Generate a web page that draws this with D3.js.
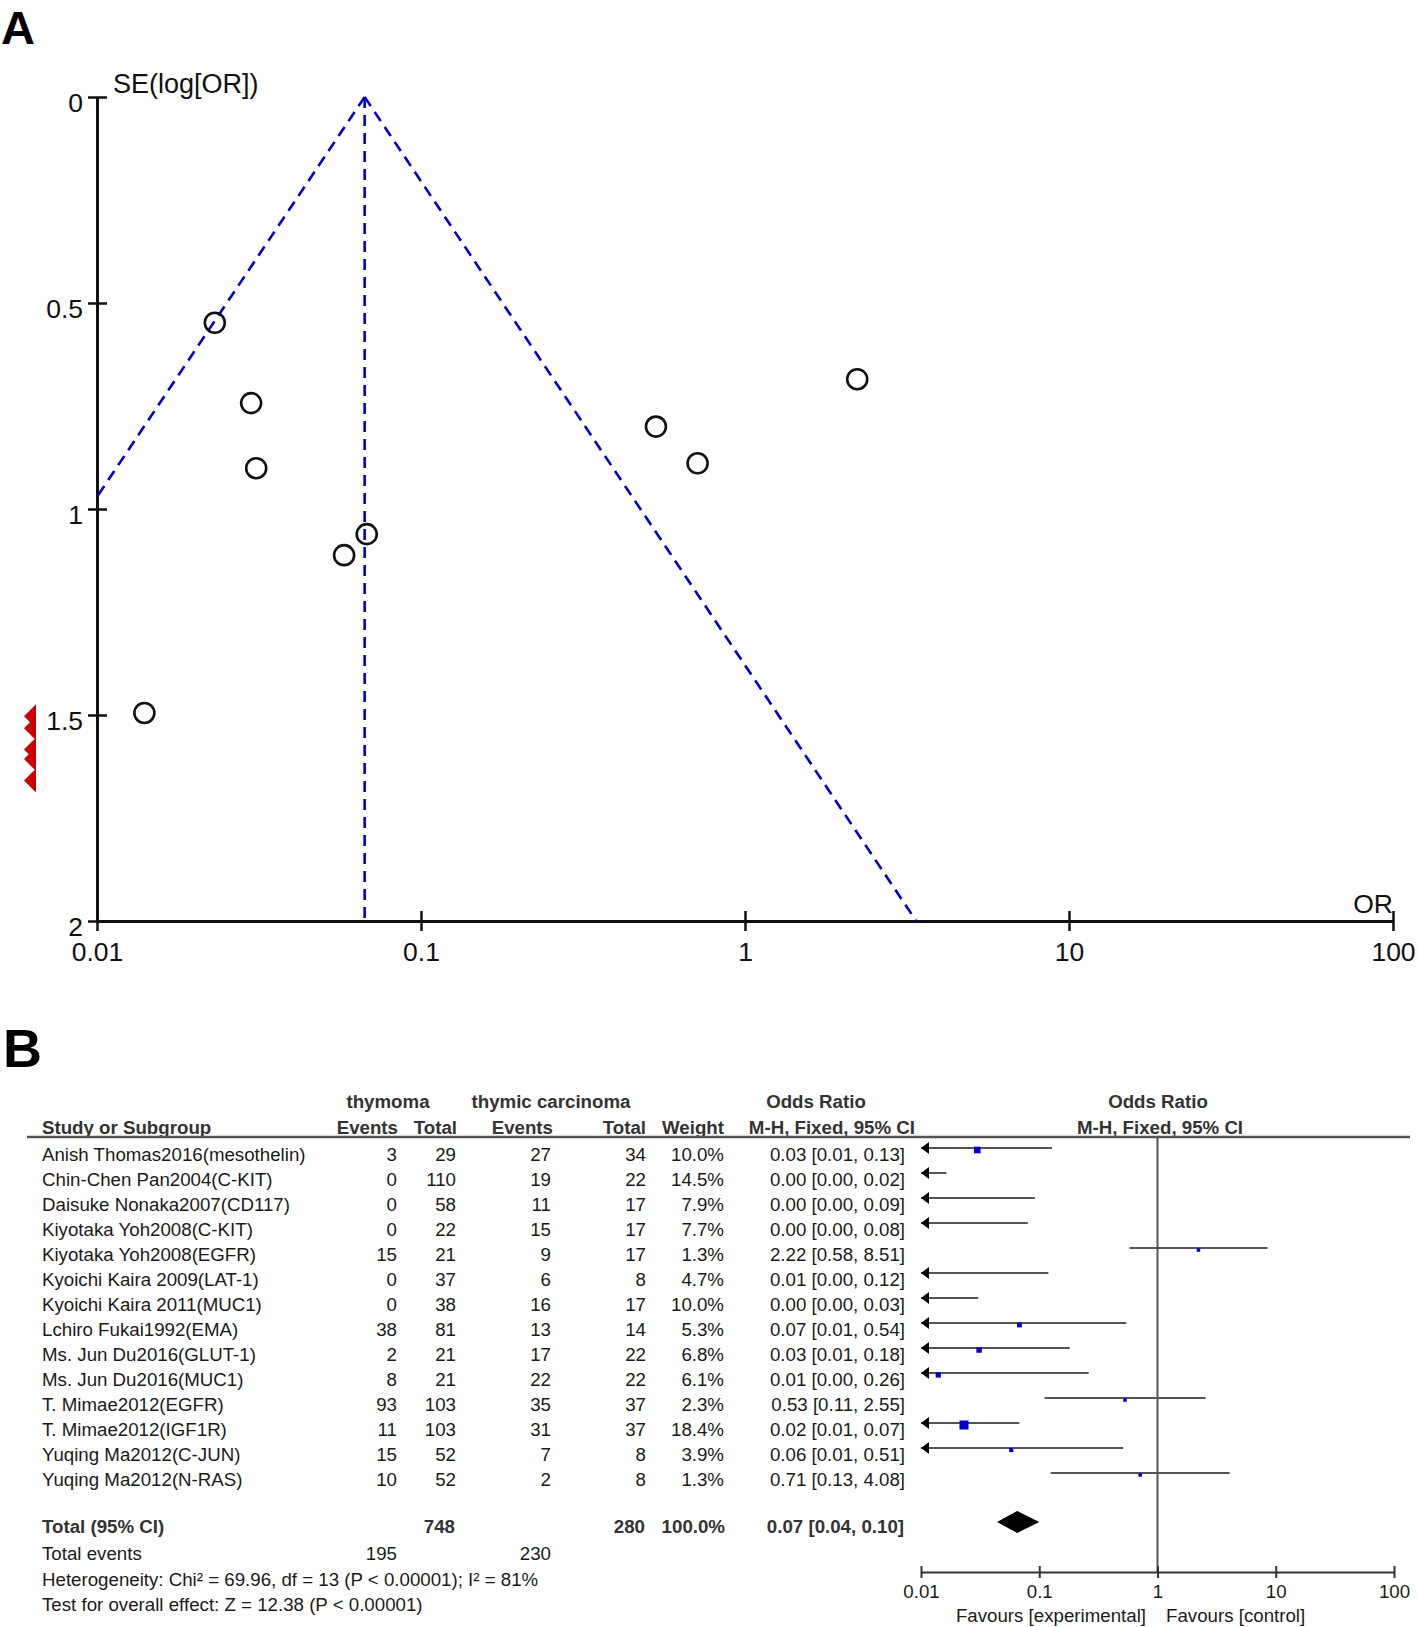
<!DOCTYPE html>
<html>
<head>
<meta charset="utf-8">
<script src="https://cdn.jsdelivr.net/npm/d3@7"></script>
<style>
  html, body { margin: 0; padding: 0; background: #fff; }
  svg { display: block; font-family: "Liberation Sans", Arial, Helvetica, sans-serif; }
</style>
</head>
<body>
<svg id="chart" width="1418" height="1627"></svg>
<script>
// ---------- Panel A: funnel plot data ----------
const funnelOR = [0.0299, 2.22, 0.068, 0.031, 0.014, 0.531, 0.0231, 0.0579, 0.714];
const funnelSE = [0.743, 0.685, 1.061, 0.901, 1.495, 0.800, 0.548, 1.112, 0.889];
const offscaleSE = [1.532, 1.503, 1.584, 1.607, 1.659];   // studies with OR < 0.01 (drawn as red markers)
const funnelCenterOR = 0.067;
const funnelXTicks = [0.01, 0.1, 1, 10, 100];
const funnelXTickLabels = ["0.01", "0.1", "1", "10", "100"];
const funnelYTicks = [0, 0.5, 1, 1.5, 2];
const funnelYTickLabels = ["0", "0.5", "1", "1.5", "2"];

// ---------- Panel B: forest plot data ----------
const studies = [
  "Anish Thomas2016(mesothelin)", "Chin-Chen Pan2004(C-KIT)", "Daisuke Nonaka2007(CD117)",
  "Kiyotaka Yoh2008(C-KIT)", "Kiyotaka Yoh2008(EGFR)", "Kyoichi Kaira 2009(LAT-1)",
  "Kyoichi Kaira 2011(MUC1)", "Lchiro Fukai1992(EMA)", "Ms. Jun Du2016(GLUT-1)",
  "Ms. Jun Du2016(MUC1)", "T. Mimae2012(EGFR)", "T. Mimae2012(IGF1R)",
  "Yuqing Ma2012(C-JUN)", "Yuqing Ma2012(N-RAS)"
];
const thyEvents = [3, 0, 0, 0, 15, 0, 0, 38, 2, 8, 93, 11, 15, 10];
const thyTotal  = [29, 110, 58, 22, 21, 37, 38, 81, 21, 21, 103, 103, 52, 52];
const carEvents = [27, 19, 11, 15, 9, 6, 16, 13, 17, 22, 35, 31, 7, 2];
const carTotal  = [34, 22, 17, 17, 17, 8, 17, 14, 22, 22, 37, 37, 8, 8];
const weights   = [10.0, 14.5, 7.9, 7.7, 1.3, 4.7, 10.0, 5.3, 6.8, 6.1, 2.3, 18.4, 3.9, 1.3];
const orValues  = [0.0299, 0.00081, 0.0048, 0.0036, 2.22, 0.0051, 0.0012, 0.068, 0.031, 0.014, 0.531, 0.0231, 0.0579, 0.714];
const ciLower   = [0.0070, 0.00004, 0.00025, 0.00016, 0.58, 0.00022, 0.00005, 0.0085, 0.0053, 0.00075, 0.111, 0.0079, 0.0066, 0.125];
const ciUpper   = [0.128, 0.0164, 0.0918, 0.0799, 8.51, 0.1195, 0.0305, 0.544, 0.181, 0.262, 2.547, 0.0678, 0.512, 4.08];
const orLabels  = [
  "0.03 [0.01, 0.13]", "0.00 [0.00, 0.02]", "0.00 [0.00, 0.09]", "0.00 [0.00, 0.08]",
  "2.22 [0.58, 8.51]", "0.01 [0.00, 0.12]", "0.00 [0.00, 0.03]", "0.07 [0.01, 0.54]",
  "0.03 [0.01, 0.18]", "0.01 [0.00, 0.26]", "0.53 [0.11, 2.55]", "0.02 [0.01, 0.07]",
  "0.06 [0.01, 0.51]", "0.71 [0.13, 4.08]"
];
const totalOR = [0.065, 0.044, 0.10];   // point, lower, upper
const totalRow = ["Total (95% CI)", "748", "280", "100.0%", "0.07 [0.04, 0.10]"];
const totalEvents = ["Total events", "195", "230"];
const footnotes = [
  "Heterogeneity: Chi\u00B2 = 69.96, df = 13 (P < 0.00001); I\u00B2 = 81%",
  "Test for overall effect: Z = 12.38 (P < 0.00001)"
];
const forestTicks = [0.01, 0.1, 1, 10, 100];
const forestTickLabels = ["0.01", "0.1", "1", "10", "100"];

// ---------- drawing ----------
const svg = d3.select("#chart");
const ink = "#111";

// Panel letters
svg.append("text").attr("x", 1).attr("y", 44).attr("font-size", 47).attr("font-weight", "bold")
  .attr("fill", "#000").text("A");
svg.append("text").attr("x", 3).attr("y", 1067).attr("font-size", 54).attr("font-weight", "bold")
  .attr("fill", "#000").text("B");

// ===== Funnel plot =====
const fx = d3.scaleLog().domain([0.01, 100]).range([97, 1393]);
const fy = d3.scaleLinear().domain([0, 2]).range([97, 921]);
const fFont = 26.5;

const yAxis = svg.append("g").attr("transform", `translate(${fx.range()[0]},0)`)
  .call(d3.axisLeft(fy).tickValues(funnelYTicks).tickSizeInner(9).tickSizeOuter(0)
    .tickFormat((d, i) => funnelYTickLabels[i]));
yAxis.attr("font-family", null);
yAxis.select(".domain").attr("stroke", ink).attr("stroke-width", 3);
yAxis.selectAll(".tick line").attr("x1", 10).attr("x2", -9).attr("stroke", ink).attr("stroke-width", 2.5);
yAxis.selectAll(".tick text").attr("x", -14).attr("dy", "14px").attr("font-size", fFont)
  .attr("fill", ink);

const xAxis = svg.append("g").attr("transform", `translate(0,${fy.range()[1]})`)
  .call(d3.axisBottom(fx).tickValues(funnelXTicks).tickSizeInner(10).tickSizeOuter(0)
    .tickFormat((d, i) => funnelXTickLabels[i]));
xAxis.attr("font-family", null);
xAxis.select(".domain").attr("stroke", ink).attr("stroke-width", 3);
xAxis.selectAll(".tick line").attr("y1", -10).attr("y2", 10).attr("stroke", ink).attr("stroke-width", 2.5);
xAxis.selectAll(".tick text").attr("y", 40).attr("dy", 0).attr("font-size", fFont)
  .attr("fill", ink);

svg.append("text").attr("x", 113).attr("y", 93).attr("font-size", 27).attr("fill", ink)
  .text("SE(log[OR])");
svg.append("text").attr("x", fx(100)).attr("y", 913).attr("text-anchor", "end")
  .attr("font-size", fFont).attr("fill", ink).text("OR");

// funnel lines
const z = 1.96;
const seMax = 2;
const seClip = Math.log(funnelCenterOR / 0.01) / z;
const funnelLines = [
  [[funnelCenterOR, 0], [0.01, seClip]],
  [[funnelCenterOR, 0], [funnelCenterOR, seMax]],
  [[funnelCenterOR, 0], [funnelCenterOR * Math.exp(z * seMax), seMax]]
];
const lineGen = d3.line().x(d => fx(d[0])).y(d => fy(d[1]));
svg.append("g").selectAll("path").data(funnelLines).join("path")
  .attr("d", lineGen).attr("fill", "none").attr("stroke", "#0000cc")
  .attr("stroke-width", 2.6).attr("stroke-dasharray", "11,7");

// study circles
svg.append("g").selectAll("circle").data(funnelOR).join("circle")
  .attr("cx", d => fx(d)).attr("cy", (d, i) => fy(funnelSE[i])).attr("r", 10)
  .attr("fill", "none").attr("stroke", ink).attr("stroke-width", 2.6);

// off-scale markers (left-pointing red triangles)
svg.append("g").selectAll("path").data(offscaleSE).join("path")
  .attr("d", d => {
    const y = fy(d), xr = fx.range()[0] - 61;
    return `M${xr - 12},${y} L${xr},${y - 12} L${xr},${y + 12} Z`;
  })
  .attr("fill", "#cc0000");

// ===== Forest plot =====
const bx = d3.scaleLog().domain([0.01, 100]).range([921, 1394]);
const rowY = d3.scaleLinear().domain([0, 1]).range([1161, 1186]);
const tFont = 18.7;
const txt = "#1a1a1a";
const hdr = "#333";

const headers1 = [
  { t: "thymoma", x: 388, a: "middle" },
  { t: "thymic carcinoma", x: 551, a: "middle" },
  { t: "Odds Ratio", x: 816, a: "middle" },
  { t: "Odds Ratio", x: 1158, a: "middle" }
];
const headers2 = [
  { t: "Study or Subgroup", x: 42, a: "start" },
  { t: "Events", x: 398, a: "end" },
  { t: "Total", x: 457, a: "end" },
  { t: "Events", x: 553, a: "end" },
  { t: "Total", x: 646, a: "end" },
  { t: "Weight", x: 724, a: "end" },
  { t: "M-H, Fixed, 95% CI", x: 915, a: "end" },
  { t: "M-H, Fixed, 95% CI", x: 1160, a: "middle" }
];
svg.append("g").selectAll("text").data(headers1).join("text")
  .attr("x", d => d.x).attr("y", 1108).attr("text-anchor", d => d.a)
  .attr("font-size", tFont).attr("font-weight", "bold").attr("fill", hdr).text(d => d.t);
svg.append("g").selectAll("text").data(headers2).join("text")
  .attr("x", d => d.x).attr("y", 1134).attr("text-anchor", d => d.a)
  .attr("font-size", tFont).attr("font-weight", "bold").attr("fill", hdr).text(d => d.t);
svg.append("line").attr("x1", 27).attr("x2", 1410).attr("y1", 1137).attr("y2", 1137)
  .attr("stroke", "#555").attr("stroke-width", 2.5);

// table columns
const cols = [
  { vals: studies, x: 42, a: "start" },
  { vals: thyEvents, x: 397, a: "end" },
  { vals: thyTotal, x: 456, a: "end" },
  { vals: carEvents, x: 551, a: "end" },
  { vals: carTotal, x: 646, a: "end" },
  { vals: weights.map(w => w.toFixed(1) + "%"), x: 724, a: "end" },
  { vals: orLabels, x: 905, a: "end" }
];
cols.forEach(c => {
  svg.append("g").selectAll("text").data(c.vals).join("text")
    .attr("x", c.x).attr("y", (d, i) => rowY(i)).attr("text-anchor", c.a)
    .attr("font-size", tFont).attr("fill", txt).text(d => d);
});

// total row (bold)
const totY = 1533;
const totCols = [
  { x: 42, a: "start" }, { x: 455, a: "end" }, { x: 645, a: "end" },
  { x: 725, a: "end" }, { x: 904, a: "end" }
];
svg.append("g").selectAll("text").data(totalRow).join("text")
  .attr("x", (d, i) => totCols[i].x).attr("y", totY).attr("text-anchor", (d, i) => totCols[i].a)
  .attr("font-size", tFont).attr("font-weight", "bold").attr("fill", hdr).text(d => d);

const evCols = [{ x: 42, a: "start" }, { x: 397, a: "end" }, { x: 551, a: "end" }];
svg.append("g").selectAll("text").data(totalEvents).join("text")
  .attr("x", (d, i) => evCols[i].x).attr("y", 1560).attr("text-anchor", (d, i) => evCols[i].a)
  .attr("font-size", tFont).attr("fill", txt).text(d => d);

svg.append("g").selectAll("text").data(footnotes).join("text")
  .attr("x", 42).attr("y", (d, i) => 1586 + i * 25)
  .attr("font-size", tFont).attr("fill", txt).text(d => d);

// plot area
const axisY = 1572;
svg.append("line").attr("x1", bx(1)).attr("x2", bx(1)).attr("y1", 1137).attr("y2", axisY)
  .attr("stroke", "#555").attr("stroke-width", 2);

const ciG = svg.append("g");
studies.forEach((s, i) => {
  const y = rowY(i) - 13;
  const lo = Math.max(ciLower[i], 0.01), hi = Math.min(ciUpper[i], 100);
  ciG.append("line").attr("x1", bx(lo)).attr("x2", bx(hi)).attr("y1", y).attr("y2", y)
    .attr("stroke", "#555").attr("stroke-width", 2);
  if (ciLower[i] < 0.01) {
    const x0 = bx(0.01);
    ciG.append("path").attr("d", `M${x0},${y} L${x0 + 8},${y - 6} L${x0 + 8},${y + 6} Z`)
      .attr("fill", "#000");
  }
  if (orValues[i] >= 0.01) {
    const side = Math.max(3.5, 2.1 * Math.sqrt(weights[i]));
    ciG.append("rect").attr("x", bx(orValues[i]) - side / 2).attr("y", y + 2 - side / 2)
      .attr("width", side).attr("height", side).attr("fill", "#0000cc");
  }
});

// diamond
const dY = totY - 11;
svg.append("path")
  .attr("d", `M${bx(totalOR[1])},${dY} L${bx(totalOR[0])},${dY - 11} L${bx(totalOR[2])},${dY} L${bx(totalOR[0])},${dY + 11} Z`)
  .attr("fill", "#000");

// forest axis
const fAxis = svg.append("g").attr("transform", `translate(0,${axisY})`)
  .call(d3.axisBottom(bx).tickValues(forestTicks).tickSizeInner(6).tickSizeOuter(0)
    .tickFormat((d, i) => forestTickLabels[i]));
fAxis.attr("font-family", null);
fAxis.select(".domain").attr("stroke", "#333").attr("stroke-width", 2);
fAxis.selectAll(".tick line").attr("y1", -6).attr("y2", 6).attr("stroke", "#333").attr("stroke-width", 2);
fAxis.selectAll(".tick text").attr("y", 26).attr("dy", 0).attr("font-size", tFont).attr("fill", txt);

svg.append("text").attr("x", 1146).attr("y", 1622).attr("text-anchor", "end")
  .attr("font-size", tFont).attr("fill", txt).text("Favours [experimental]");
svg.append("text").attr("x", 1166).attr("y", 1622).attr("text-anchor", "start")
  .attr("font-size", tFont).attr("fill", txt).text("Favours [control]");
</script>
</body>
</html>
